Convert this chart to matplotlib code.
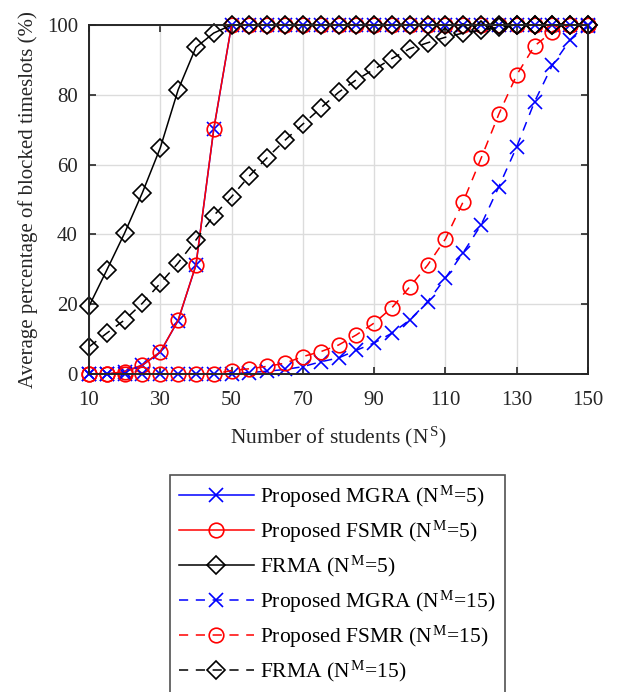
import numpy as np
import matplotlib
matplotlib.use('Agg')
import matplotlib.pyplot as plt

plt.rcParams['font.family'] = ['Liberation Serif', 'DejaVu Serif']
plt.rcParams['mathtext.fontset'] = 'custom'
plt.rcParams['mathtext.rm'] = 'Liberation Serif'
plt.rcParams['mathtext.it'] = 'Liberation Serif:italic'

students = list(range(10, 155, 5))

mgra_5 = [0, 0, 0.6, 2.5, 6.3, 15.3, 31.2, 70.1] + [100] * 21
fsmr_5 = [0, 0, 0.7, 2.6, 6.3, 15.4, 31.2, 70.2] + [100] * 21
frma_5 = [19.4, 29.8, 40.4, 52, 64.8, 81.4, 93.6, 97.7] + [100] * 21

mgra_15 = [0, 0, 0, 0, 0, 0, 0, 0, 0.1, 0.4, 0.8, 1.3, 2.1, 3.5, 4.6, 6.8,
           8.9, 11.7, 15.5, 20.7, 27.5, 34.8, 42.7, 53.7, 65.1, 78.0, 88.5, 95.7, 99.7]
fsmr_15 = [0, 0, 0, 0, 0, 0, 0, 0, 1.0, 1.5, 2.2, 3.1, 5.0, 6.4, 8.3, 11.2,
           14.6, 19.0, 25.0, 31.2, 38.7, 49.4, 61.8, 74.5, 85.7, 94.0, 98.1, 100, 100]
frma_15 = [7.8, 11.7, 15.5, 20.3, 26.0, 31.8, 38.4, 45.4, 50.8, 56.8, 62.0, 67.0,
           71.6, 76.2, 80.7, 84.3, 87.3, 90.4, 93.2, 94.9, 96.5, 97.7, 98.5, 99.4,
           100, 100, 100, 100, 100]

labels = [r'Proposed MGRA (N$^{\,\mathrm{M}}$=5)',
          r'Proposed FSMR (N$^{\,\mathrm{M}}$=5)',
          r'FRMA (N$^{\,\mathrm{M}}$=5)',
          r'Proposed MGRA (N$^{\,\mathrm{M}}$=15)',
          r'Proposed FSMR (N$^{\,\mathrm{M}}$=15)',
          r'FRMA (N$^{\,\mathrm{M}}$=15)']

fig = plt.figure(figsize=(6.18, 6.92), dpi=100)
ax = fig.add_axes([89 / 618, 1 - 374 / 692, (588 - 89) / 618, (374 - 25) / 692])

series = [
    (mgra_5, 'b', 'x', '-'),
    (fsmr_5, 'r', 'o', '-'),
    (frma_5, 'k', 'D', '-'),
    (mgra_15, 'b', 'x', '--'),
    (fsmr_15, 'r', 'o', '--'),
    (frma_15, 'k', 'D', '--'),
]

for (vals, c, m, ls), lab in zip(series, labels):
    ms = 10.5 if m != 'D' else 9.5
    line, = ax.plot(students, vals, color=c, marker=m, linestyle=ls, lw=1.1,
                    markersize=ms, markerfacecolor='none', markeredgewidth=1.2,
                    label=lab, clip_on=False)
    if ls == '--':
        line.set_dashes((6, 5))

ax.set_xlim(10, 150)
ax.set_ylim(0, 100)
ax.set_xticks(range(10, 151, 20))
ax.set_yticks(range(0, 101, 20))
ax.grid(True, color='#dcdcdc', lw=1.0)
ax.set_axisbelow(True)
ax.tick_params(axis='both', direction='in', top=True, right=True, length=5, width=1.2,
               labelsize=15, colors='#262626')
ax.tick_params(axis='x', pad=12)
ax.tick_params(axis='y', pad=8)
for sp in ax.spines.values():
    sp.set_linewidth(1.4)
    sp.set_color('#262626')

ax.set_xlabel(r'Number of students (N$^{\,\mathrm{S}}$)', fontsize=15.5, color='#262626', labelpad=11)
ax.set_ylabel('Average percentage of blocked timeslots (%)', fontsize=15, color='#262626', labelpad=6)

leg = fig.legend(loc='upper left', bbox_to_anchor=(170 / 618, 1 - 475 / 692),
                 fontsize=15.5, frameon=True, fancybox=False, edgecolor='#262626',
                 handlelength=3.5, handletextpad=0.3, labelspacing=0.42,
                 borderaxespad=0, borderpad=0.4)
leg.get_frame().set_linewidth(1.2)

fig.savefig('out.png', dpi=100)
